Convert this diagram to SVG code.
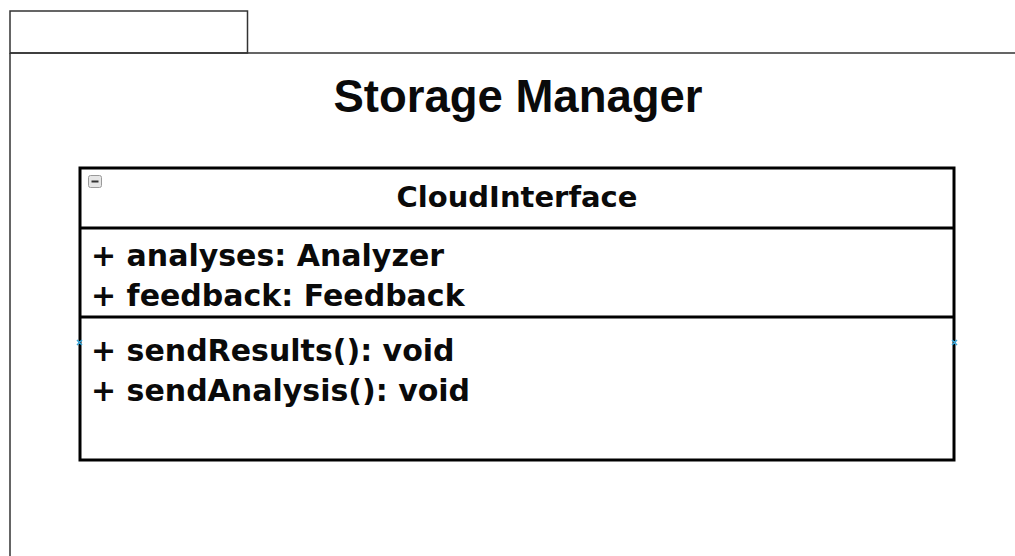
<svg xmlns="http://www.w3.org/2000/svg" width="1015" height="556" viewBox="0 0 1015 556">
  <style>
    .frame { fill: none; stroke: #333; stroke-width: 1.5; }
    .box { fill: #fff; stroke: #000; stroke-width: 3; }
    .div { stroke: #000; stroke-width: 3; }
    .title { font-family: "Liberation Sans", Arial, sans-serif; font-weight: bold; font-size: 45.5px; fill: #0a0a0a; }
    .cls { font-family: "DejaVu Sans", Verdana, sans-serif; font-weight: bold; fill: #0a0a0a; }
    .cname { font-size: 29px; }
    .member { font-size: 30px; }
    .pin { stroke: #3aa6d8; stroke-width: 1.5; }
  </style>
  <rect width="1015" height="556" fill="#fff"/>
  <g id="package-storage-manager">
    <rect class="frame" x="10" y="11" width="237.5" height="42"/>
    <path class="frame" d="M10 53 H1020 M10 53 V560"/>
    <text class="title" x="518" y="112" text-anchor="middle">Storage Manager</text>
  </g>
  <g id="class-cloudinterface">
    <rect class="box" x="80" y="168" width="874" height="292"/>
    <line class="div" x1="80" y1="228" x2="954" y2="228"/>
    <line class="div" x1="80" y1="317" x2="954" y2="317"/>
    <rect x="88.5" y="175.5" width="13" height="12" rx="2" fill="#e6e6e6" stroke="#9a9a9a" stroke-width="1"/>
    <line x1="91.5" y1="181.5" x2="98.5" y2="181.5" stroke="#333" stroke-width="2"/>
    <text class="cls cname" x="517" y="207" text-anchor="middle">CloudInterface</text>
    <text class="cls member" x="91" y="266">+ analyses: Analyzer</text>
    <text class="cls member" x="91" y="306">+ feedback: Feedback</text>
    <text class="cls member" x="91" y="361">+ sendResults(): void</text>
    <text class="cls member" x="91" y="401">+ sendAnalysis(): void</text>
    <path class="pin" d="M77 340 l5 5 M82 340 l-5 5 M952 340 l5 5 M957 340 l-5 5"/>
  </g>
  <g id="connectors"></g>
</svg>
